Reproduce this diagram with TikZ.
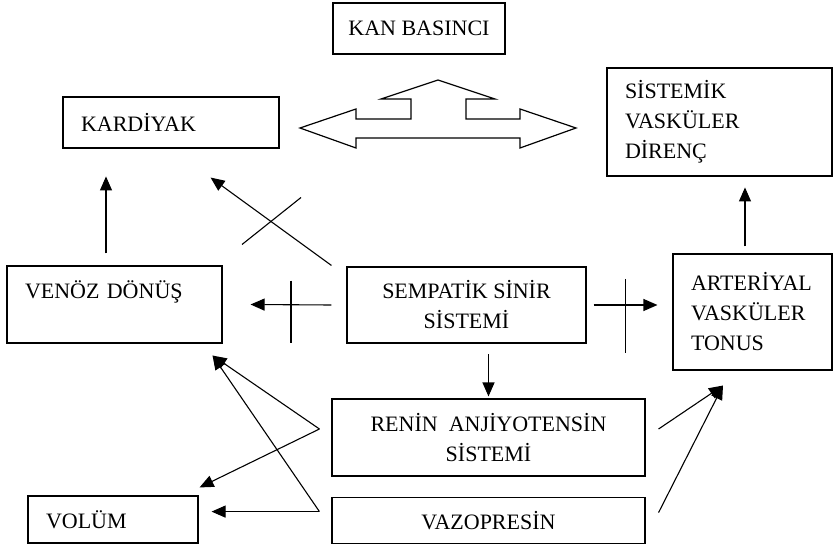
\documentclass[tikz,border=0pt]{standalone}
\usepackage{fontspec}
\setmainfont{Liberation Serif}
\usetikzlibrary{positioning,arrows.meta}

\begin{document}
\begin{tikzpicture}[x=1pt,y=-1pt,line width=1.1pt,>={Triangle[length=14pt,width=12pt]},
    box/.style={draw,rectangle,inner ysep=0pt,font=\fontsize{22}{30}\selectfont},
    lbox/.style={box,align=left,inner xsep=18pt},
    cbox/.style={box,align=center,inner xsep=2pt}]
    \useasboundingbox (0,0) rectangle (833,548);
    \node[cbox,minimum width=172pt,minimum height=51pt] (kan) at (419,28.5) {KAN BASINCI};
    \node[lbox,text width=180pt,minimum height=51pt] (kardiyak) at (171,122.5) {KARDİYAK};
    \node[lbox,text width=189pt,minimum height=108pt] (sistemik) at (719.5,122) {SİSTEMİK\\VASKÜLER\\DİRENÇ};
    \node[lbox,text width=179pt,minimum height=77pt] (venoz) at (114.5,304.5) {VENÖZ DÖNÜŞ\\ \mbox{}};
    \node[cbox,minimum width=239pt,minimum height=76pt] (sempatik) at (466.5,305) {SEMPATİK SİNİR\\SİSTEMİ};
    \node[lbox,text width=123pt,minimum height=116pt] (arteriyal) at (752.5,312) {ARTERİYAL\\VASKÜLER\\TONUS};
    \node[cbox,minimum width=313pt,minimum height=77pt] (renin) at (488.5,437.5) {RENİN\ \ ANJİYOTENSİN\\SİSTEMİ};
    \node[cbox,minimum width=313pt,minimum height=46pt,below=20pt of renin] (vazo) {VAZOPRESİN};
    \node[lbox,text width=134pt,minimum height=47pt] (volum) at (113,519.5) {VOLÜM};
    % kan basinci double arrow
    \draw[line width=1.2pt] (300,128) -- (356,109) -- (356,119) -- (411,119) -- (411,99) -- (381,99)
      -- (438,80) -- (495,99) -- (466,99) -- (466,119) -- (520,119) -- (520,109) -- (576,128)
      -- (520,148) -- (520,138) -- (356,138) -- (356,148) -- cycle;
    \draw[->] ([xshift=-8.5pt,yshift=12pt]venoz.north) -- ++(0,-77);
    \draw[->] ([xshift=-7.5pt,yshift=7pt]arteriyal.north) -- ++(0,-59);
    \draw[->] ([yshift=44pt]renin.north) -- ([yshift=2pt]renin.north);
    % sempatik, blocked arrows
    \draw[->] ([xshift=-15pt,yshift=1pt]sempatik.north west) -- coordinate[pos=.5] (m1) ([xshift=-69pt,yshift=-29pt]kardiyak.south east);
    \draw ([shift={(-29,23)}]m1) -- ([shift={(30,-24)}]m1);
    \draw[->] ([xshift=-15pt]sempatik.west) -- coordinate[pos=.5] (m2) ([xshift=28pt]venoz.east);
    \draw ([yshift=24pt]m2) -- ([yshift=-38pt]m2);
    \draw[->] ([xshift=7pt]sempatik.east) -- coordinate[pos=.5] (m3) ([xshift=-15pt,yshift=7pt]arteriyal.west);
    \draw ([yshift=26pt]m3) -- ([yshift=-48pt]m3);
    % renin and vazopresin
    \coordinate (rL) at ([xshift=-12pt,yshift=8.5pt]renin.west);
    \coordinate (vL) at ([xshift=-12pt,yshift=8.5pt]vazo.west);
    \coordinate (rR) at ([xshift=13pt,yshift=8.5pt]renin.east);
    \coordinate (vR) at ([xshift=13pt,yshift=7.5pt]vazo.east);
    \draw[->] (rL) -- ([xshift=-10pt,yshift=-12pt]venoz.south east);
    \draw[->] (vL) -- ([xshift=-10pt,yshift=-12pt]venoz.south east);
    \draw[->] (rL) -- ([xshift=1pt,yshift=8pt]volum.north east);
    \draw[->,shorten >=13pt] (vL) -- (vL -| volum.east);
    \draw[->] (rR) -- ([xshift=-29.5pt,yshift=-15pt]arteriyal.south);
    \draw[->] (vR) -- ([xshift=-29.5pt,yshift=-15pt]arteriyal.south);
\end{tikzpicture}
\end{document}
